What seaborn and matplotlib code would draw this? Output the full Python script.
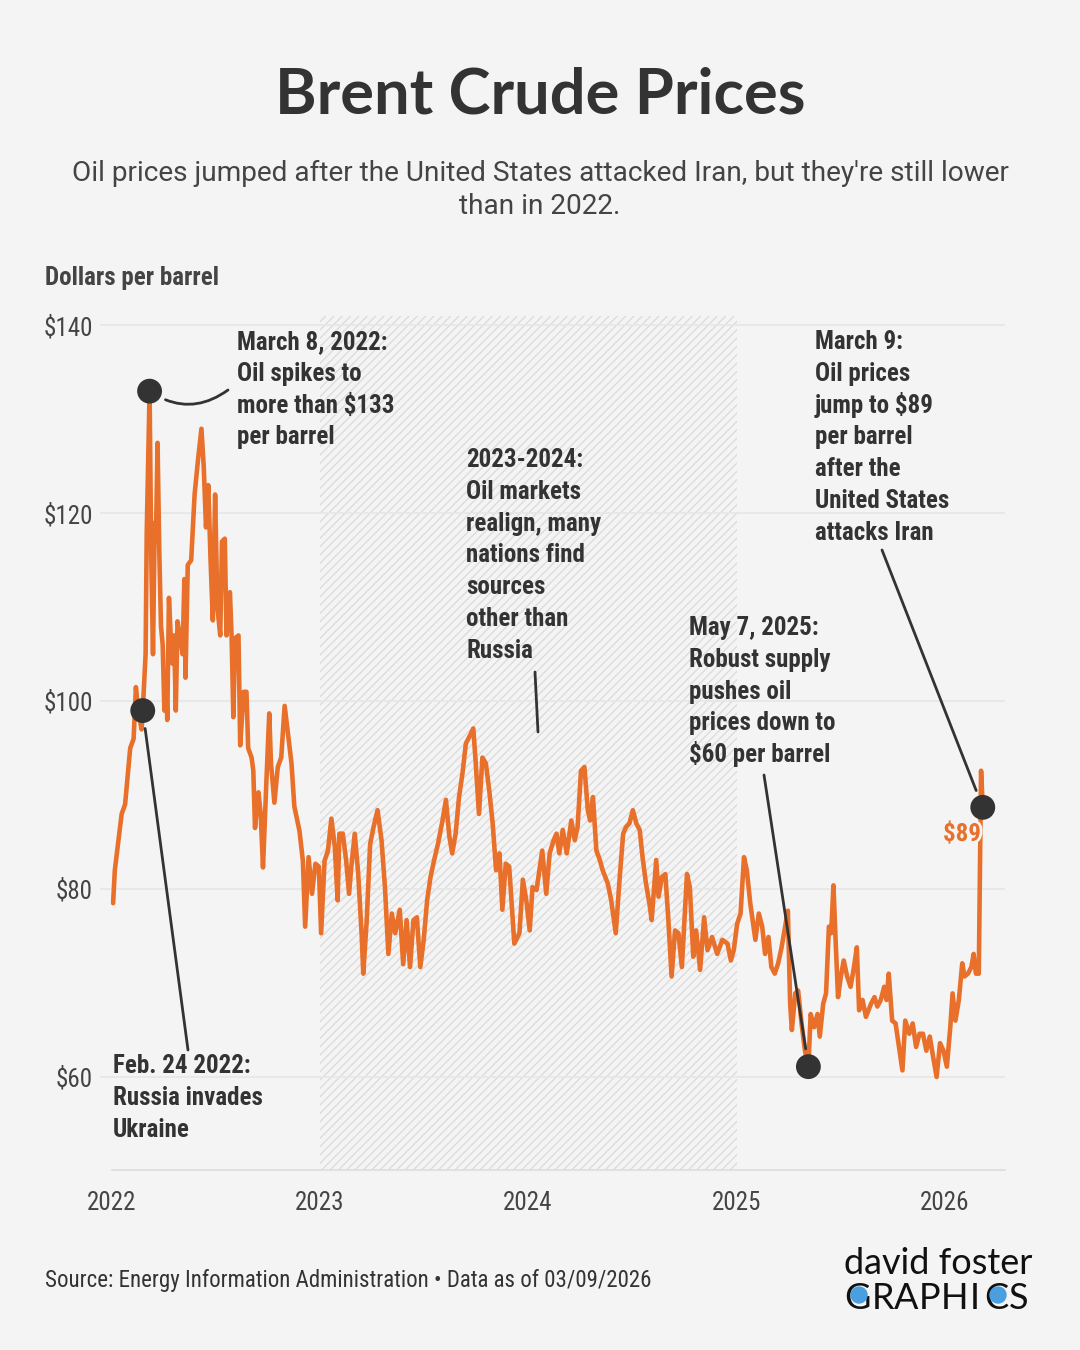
import matplotlib
matplotlib.use("Agg")
import matplotlib.pyplot as plt
import matplotlib.dates as mdates
import matplotlib.patheffects as pe
from matplotlib import font_manager
from matplotlib.lines import Line2D
from matplotlib.patches import Ellipse
import pandas as pd
import seaborn as sns

# Brent spot price, dollars per barrel
dates_2022 = ["2022-01-03", "2022-01-06", "2022-01-12", "2022-01-18", "2022-01-24", "2022-01-27",
              "2022-02-02", "2022-02-08", "2022-02-12", "2022-02-16", "2022-02-22", "2022-02-24",
              "2022-03-01", "2022-03-03", "2022-03-08", "2022-03-11", "2022-03-14", "2022-03-17",
              "2022-03-19", "2022-03-22", "2022-03-25", "2022-03-28", "2022-03-31",
              "2022-04-03", "2022-04-06", "2022-04-08", "2022-04-11", "2022-04-14", "2022-04-17",
              "2022-04-20", "2022-04-23", "2022-04-26", "2022-04-30",
              "2022-05-05", "2022-05-08", "2022-05-10", "2022-05-14", "2022-05-20", "2022-05-26",
              "2022-06-01", "2022-06-07", "2022-06-11", "2022-06-15", "2022-06-19", "2022-06-23", "2022-06-27",
              "2022-07-01", "2022-07-05", "2022-07-10", "2022-07-13", "2022-07-18", "2022-07-21",
              "2022-07-27", "2022-07-30",
              "2022-08-02", "2022-08-05", "2022-08-11", "2022-08-14", "2022-08-20", "2022-08-25", "2022-08-28",
              "2022-09-03", "2022-09-06", "2022-09-09", "2022-09-15", "2022-09-19", "2022-09-23", "2022-09-29",
              "2022-10-04", "2022-10-07", "2022-10-13", "2022-10-19", "2022-10-25", "2022-10-31",
              "2022-11-06", "2022-11-12", "2022-11-17", "2022-11-26",
              "2022-12-02", "2022-12-06", "2022-12-12", "2022-12-18", "2022-12-24", "2022-12-30"]
prices_2022 = [78.5, 82, 85, 88, 89, 91,
               95, 96, 101.5, 99, 97, 99,
               105, 118, 133, 115, 105, 119, 117, 127.5, 116, 108, 106,
               99, 103, 98, 111, 107, 104, 107, 99, 108.5, 107,
               105, 113, 102.5, 114.5, 115, 122,
               125.7, 129, 125, 118.5, 123, 115, 108.6,
               122, 110, 107, 117, 117.3, 107, 111.6, 106.7,
               98.3, 106.7, 107, 95.3, 101, 101, 95,
               94, 92.6, 86.5, 90.3, 88, 82.3, 91.5,
               98.7, 93.4, 89.2, 93, 94, 99.5,
               96.4, 93.4, 88.8, 86.2,
               83, 76, 83.4, 79.5, 82.7, 82.4]

dates_2023 = ["2023-01-03", "2023-01-09", "2023-01-15", "2023-01-21", "2023-01-27",
              "2023-02-01", "2023-02-04", "2023-02-10", "2023-02-16", "2023-02-21", "2023-02-25",
              "2023-03-03", "2023-03-09", "2023-03-15", "2023-03-18", "2023-03-24", "2023-03-30",
              "2023-04-05", "2023-04-12", "2023-04-19", "2023-04-25",
              "2023-05-01", "2023-05-07", "2023-05-13", "2023-05-21", "2023-05-27",
              "2023-06-02", "2023-06-08", "2023-06-14", "2023-06-20", "2023-06-26",
              "2023-07-02", "2023-07-08", "2023-07-14", "2023-07-20", "2023-07-27",
              "2023-08-04", "2023-08-10", "2023-08-16", "2023-08-21", "2023-08-27",
              "2023-09-02", "2023-09-08", "2023-09-14", "2023-09-20", "2023-09-27",
              "2023-10-01", "2023-10-07", "2023-10-13", "2023-10-19", "2023-10-25", "2023-10-31",
              "2023-11-06", "2023-11-12", "2023-11-17", "2023-11-23", "2023-11-29",
              "2023-12-08", "2023-12-17", "2023-12-23", "2023-12-29"]
prices_2023 = [75.3, 83, 84.1, 87.5, 84.5,
               78.8, 85.9, 85.9, 83, 79.5, 82.4,
               85.9, 81.7, 75.3, 71, 76.7, 84.8,
               86.6, 88.4, 85.2, 80.2,
               73.1, 77.4, 75.3, 77.8, 72,
               76.7, 71.7, 76.7, 77, 71.7,
               74.6, 78.8, 81.3, 83, 84.8,
               87.3, 89.5, 85.6, 83.8, 85.9,
               89.8, 92.3, 95.5, 96.2, 97.1,
               93.7, 88, 94, 93.4, 90.5, 87,
               82, 83.8, 77.8, 82.7, 82.4,
               74.2, 75.3, 81, 78.8]

dates_2024 = ["2024-01-04", "2024-01-09", "2024-01-16", "2024-01-26",
              "2024-02-02", "2024-02-08", "2024-02-15", "2024-02-20", "2024-02-25",
              "2024-03-02", "2024-03-09", "2024-03-17", "2024-03-23", "2024-03-28",
              "2024-04-03", "2024-04-09", "2024-04-15", "2024-04-19", "2024-04-24", "2024-04-30",
              "2024-05-06", "2024-05-11", "2024-05-20", "2024-05-26",
              "2024-06-03", "2024-06-10", "2024-06-16", "2024-06-21", "2024-06-27",
              "2024-07-03", "2024-07-09", "2024-07-15", "2024-07-20", "2024-07-26",
              "2024-08-01", "2024-08-05", "2024-08-13", "2024-08-17", "2024-08-23", "2024-08-29",
              "2024-09-03", "2024-09-09", "2024-09-15", "2024-09-21", "2024-09-27",
              "2024-10-06", "2024-10-11", "2024-10-17", "2024-10-22", "2024-10-29",
              "2024-11-05", "2024-11-11", "2024-11-19", "2024-11-28",
              "2024-12-07", "2024-12-16", "2024-12-22", "2024-12-27"]
prices_2024 = [75.6, 80.2, 79.9, 84.1,
               79.5, 83.8, 85.2, 85.9, 83.8,
               86.3, 83.8, 87.3, 85.2, 86.6,
               92.6, 93, 88.4, 87.3, 89.8, 84.1,
               83.1, 82, 80.6, 78.8,
               75.3, 81.3, 85.9, 86.6, 87,
               88.4, 87, 86.3, 83.4, 80.6,
               78.5, 76.7, 83.1, 79.2, 81.3, 81.6,
               77, 70.7, 75.6, 75.3, 71.7,
               81.6, 80.2, 72.8, 75.6, 71.4,
               77, 73.5, 74.9, 73.1,
               74.6, 74.2, 72.4, 73.5]

dates_2025 = ["2025-01-02", "2025-01-08", "2025-01-14", "2025-01-19", "2025-01-25",
              "2025-02-03", "2025-02-09", "2025-02-15", "2025-02-20", "2025-02-26",
              "2025-03-03", "2025-03-09", "2025-03-15", "2025-03-21", "2025-03-26",
              "2025-04-01", "2025-04-05", "2025-04-08", "2025-04-14", "2025-04-19", "2025-04-25",
              "2025-05-01", "2025-05-07", "2025-05-11", "2025-05-17", "2025-05-23", "2025-05-27",
              "2025-06-02", "2025-06-07", "2025-06-12", "2025-06-16", "2025-06-20", "2025-06-24", "2025-06-28",
              "2025-07-03", "2025-07-08", "2025-07-14", "2025-07-20", "2025-07-26", "2025-07-31",
              "2025-08-04", "2025-08-10", "2025-08-16", "2025-08-25", "2025-08-31",
              "2025-09-05", "2025-09-11", "2025-09-17", "2025-09-21", "2025-09-25",
              "2025-10-01", "2025-10-07", "2025-10-13", "2025-10-19", "2025-10-24", "2025-10-31",
              "2025-11-06", "2025-11-12", "2025-11-18", "2025-11-24", "2025-11-30",
              "2025-12-06", "2025-12-12", "2025-12-18", "2025-12-24", "2025-12-30"]
prices_2025 = [76.3, 77.4, 83.4, 82, 78.5,
               74.6, 77.4, 76, 73.1, 74.9,
               71.7, 71, 72.1, 73.8, 75.6,
               77.7, 67.8, 65, 68.9, 69.2, 65.7,
               62.8, 61.1, 66.7, 65.3, 66.7, 64.3,
               67.8, 68.9, 76, 75.3, 80.4, 74.2, 68.5,
               70.7, 72.4, 70.7, 69.6, 71.7, 73.8,
               67.1, 68.2, 66.4, 67.8, 68.5,
               67.5, 68.2, 69.6, 68.2, 71,
               66, 65.7, 63.2, 60.7, 66, 64.6,
               65.7, 63.2, 64.6, 64.6, 62.8,
               64.3, 62.1, 60, 63.6, 62.8]

dates_2026 = ["2026-01-05", "2026-01-11", "2026-01-15", "2026-01-20", "2026-01-26",
              "2026-02-01", "2026-02-05", "2026-02-11", "2026-02-17", "2026-02-21", "2026-02-25",
              "2026-03-02", "2026-03-04", "2026-03-05", "2026-03-06", "2026-03-09"]
prices_2026 = [61.1, 65.3, 68.9, 66, 68.2,
               72.1, 70.7, 71, 71.7, 73.1, 71,
               71, 81.3, 86.6, 92.6, 88.7]

event_dates = ["2022-02-24", "2022-03-08", "2025-05-07", "2026-03-09"]
year_ticks = ["2022", "2023", "2024", "2025", "2026"]
price_ticks = [60, 80, 100, 120, 140]

BG = "#f4f4f4"
ORANGE = "#e8702a"
DARK = "#333333"
GREY = "#444444"
W, H = 1080, 1350


def pick_font(names, min_weight=0):
    fonts = font_manager.fontManager.ttflist
    for name in names:
        for f in fonts:
            if f.name == name and (not isinstance(f.weight, int) or f.weight >= min_weight):
                return name
    return "DejaVu Sans"


def fx(x):
    return x / W


def fy(y):
    return 1 - y / H


sns.set_theme(style="white")
COND = pick_font(["Roboto Condensed", "Liberation Sans Narrow", "Roboto"])
HEAD = pick_font(["Source Sans 3", "Source Sans Pro", "Lato", "Open Sans"], min_weight=700)
plt.rcParams["font.family"] = [COND, "DejaVu Sans"]
plt.rcParams["hatch.color"] = "#dcdcdc"
plt.rcParams["hatch.linewidth"] = 1.0

df = pd.DataFrame({
    "date": pd.to_datetime(dates_2022 + dates_2023 + dates_2024 + dates_2025 + dates_2026),
    "price": prices_2022 + prices_2023 + prices_2024 + prices_2025 + prices_2026,
})
events = df[df["date"].isin(pd.to_datetime(event_dates))]

fig = plt.figure(figsize=(W / 100, H / 100), dpi=100, facecolor=BG)
ax = fig.add_axes([fx(100), fy(1170), (1005 - 100) / W, (1170 - 316) / H])
ax.set_facecolor(BG)

# 2023-2024 hatched band
ax.axvspan(pd.Timestamp("2023-01-01"), pd.Timestamp("2025-01-01"), facecolor="none",
           edgecolor="#dcdcdc", hatch="////", lw=0, zorder=0)

sns.lineplot(data=df, x="date", y="price", color=ORANGE, linewidth=3.3, ax=ax, zorder=3)
sns.scatterplot(data=events, x="date", y="price", color=DARK, s=320, edgecolor="none",
                ax=ax, zorder=5)

ax.set_xlim(pd.Timestamp("2021-12-11"), pd.Timestamp("2026-04-17"))
ax.set_ylim(50.1, 141)
ax.set_xticks([pd.Timestamp(f"{y}-01-01") for y in year_ticks])
ax.set_xticklabels(year_ticks)
ax.set_yticks(price_ticks)
ax.set_yticklabels([f"${v}" for v in price_ticks])
ax.set_xlabel("")
ax.set_ylabel("")
ax.yaxis.grid(True, color="#e6e6e6", lw=1.2)
ax.set_axisbelow(True)
ax.tick_params(axis="y", length=0, pad=5, labelsize=18, labelcolor=GREY)
ax.tick_params(axis="x", length=11, width=1, color="#dddddd", pad=4, labelsize=18, labelcolor=GREY)
for side in ["top", "right", "left"]:
    ax.spines[side].set_visible(False)
ax.spines["bottom"].set_color("#dddddd")
ax.spines["bottom"].set_bounds(mdates.date2num(pd.Timestamp("2022-01-01")),
                               mdates.date2num(pd.Timestamp("2026-04-17")))

# titles
fig.text(0.5, fy(95), "Brent Crude Prices", ha="center", va="center", fontsize=45.5,
         fontweight="bold", color=DARK, family=HEAD)
fig.text(0.5, fy(173), "Oil prices jumped after the United States attacked Iran, but they're still lower",
         ha="center", va="center", fontsize=20.2, color=GREY, family="Roboto")
fig.text(0.5, fy(206), "than in 2022.", ha="center", va="center", fontsize=20.2, color=GREY,
         family="Roboto")
fig.text(fx(45), fy(278), "Dollars per barrel", ha="left", va="center", fontsize=18,
         fontweight="bold", color=GREY)


def note(x, y, lines, step=31.8, **kw):
    for i, line in enumerate(lines):
        fig.text(fx(x), fy(y + i * step + 8), line, ha="left", va="baseline", fontsize=18,
                 fontweight="bold", color=DARK, **kw)


note(237, 341, ["March 8, 2022:", "Oil spikes to", "more than $133", "per barrel"])
note(466, 459, ["2023-2024:", "Oil markets", "realign, many", "nations find", "sources",
                "other than", "Russia"])
note(815, 341, ["March 9:", "Oil prices", "jump to $89", "per barrel", "after the",
                "United States", "attacks Iran"])
note(689, 627, ["May 7, 2025:", "Robust supply", "pushes oil", "prices down to", "$60 per barrel"])
note(113, 1065, ["Feb. 24 2022:", "Russia invades", "Ukraine"])

# connectors from dots to notes
ev = dict(zip(events["date"].dt.strftime("%Y-%m-%d"), events["price"]))
line_style = dict(arrowstyle="-", color=DARK, lw=2, shrinkA=0, shrinkB=13)
ax.annotate("", xy=(pd.Timestamp("2022-03-08"), ev["2022-03-08"]), xytext=(228, H - 390),
            textcoords="figure pixels",
            arrowprops=dict(line_style, connectionstyle="arc3,rad=-0.35"))
ax.annotate("", xy=(pd.Timestamp("2022-02-24"), ev["2022-02-24"]), xytext=(188, H - 1050),
            textcoords="figure pixels", arrowprops=line_style)
ax.annotate("", xy=(pd.Timestamp("2025-05-07"), ev["2025-05-07"]), xytext=(764, H - 775),
            textcoords="figure pixels", arrowprops=line_style)
ax.annotate("", xy=(pd.Timestamp("2026-03-09"), ev["2026-03-09"]), xytext=(882, H - 550),
            textcoords="figure pixels", arrowprops=line_style)
fig.add_artist(Line2D([fx(535), fx(538)], [fy(672), fy(732)], color=DARK, lw=2))

fig.text(fx(981), fy(834), "$89", ha="right", va="center", fontsize=18, fontweight="bold",
         color=ORANGE, path_effects=[pe.withStroke(linewidth=4, foreground=BG)])

# footer
fig.text(fx(45), fy(1281), "Source: Energy Information Administration \u2022 Data as of 03/09/2026",
         ha="left", va="center", fontsize=16.5, color=DARK)

# logo: letters placed one by one so the blue discs land inside the G and the C
fig.text(fx(1032), fy(1274), "david foster", ha="right", va="baseline", fontsize=26,
         color="#111111", family="Lato")
logo_centres = [857, 883, 906, 930, 955, 975, 996, 1019]
for letter, cx in zip("GRAPHICS", logo_centres):
    fig.text(fx(cx), fy(1309), letter, ha="center", va="baseline", fontsize=26,
             color="#111111", family="Lato", zorder=2)
    if letter in "GC":
        fig.add_artist(Ellipse((fx(cx + 2), fy(1295)), 16 / W, 16 / H, color="#4a9fe0", zorder=3))

fig.savefig("out.png", dpi=100, facecolor=BG)
